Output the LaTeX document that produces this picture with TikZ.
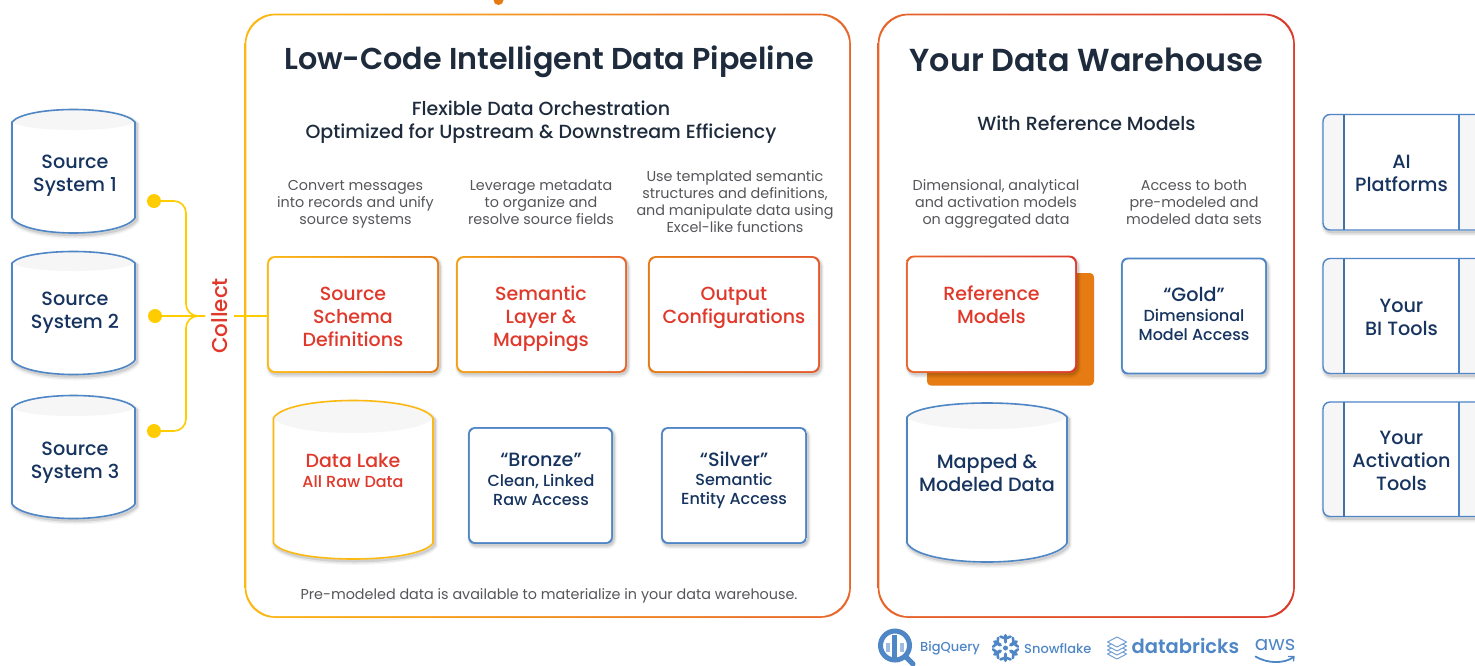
\documentclass[tikz,border=0pt]{standalone}
\usepackage{fontspec}
\setmainfont{Poppins}
\newfontfamily\pmed{Poppins Medium}
\newfontfamily\psemi{Poppins SemiBold}
\usetikzlibrary{arrows.meta,calc}
\definecolor{navy}{HTML}{16345F}
\definecolor{redt}{HTML}{E0392B}
\definecolor{greyt}{HTML}{55565A}
\definecolor{titlec}{HTML}{1E2B3C}
\definecolor{bluel}{HTML}{4F86C6}
\definecolor{yel}{HTML}{FDB913}
\definecolor{ora}{HTML}{E57B12}
\definecolor{oreds}{HTML}{E8652A}
\definecolor{redl}{HTML}{DB3A2C}
\definecolor{rim}{HTML}{F6F6F6}
\definecolor{dotc}{HTML}{FFCC00}
\tikzset{
 x=1pt,y=-1pt,
 softshadow/.style={
  preaction={draw=black,draw opacity=.035,line width=7pt,transform canvas={xshift=1.5pt,yshift=-2.5pt}},
  preaction={draw=black,draw opacity=.06,line width=4.5pt,transform canvas={xshift=1.5pt,yshift=-2.5pt}},
  preaction={draw=black,draw opacity=.10,line width=2.5pt,transform canvas={xshift=1.5pt,yshift=-2pt}}},
 subt/.style={font=\pmed\fontsize{19}{23}\selectfont,text=titlec,align=center,inner sep=0pt},
 descr/.style={font=\fontsize{14.35}{17}\selectfont,text=greyt,align=center,inner sep=0pt},
 navyt/.style={font=\pmed\fontsize{19.2}{23}\selectfont,text=navy,align=center,inner sep=0pt},
 navys/.style={font=\pmed\fontsize{16}{19}\selectfont,text=navy,align=center,inner sep=0pt},
 redtx/.style={font=\pmed\fontsize{19}{23}\selectfont,text=redt,align=center,inner sep=0pt},
 reds/.style={font=\pmed\fontsize{16}{20}\selectfont,text=redt,align=center,inner sep=0pt},
 dotn/.style={circle,fill=dotc,inner sep=0pt,minimum size=14pt},
 conn/.style={draw=dotc,line width=1.6pt},
 logot/.style={font=\pmed\fontsize{13}{16}\selectfont,text=bluel,inner sep=0pt},
}
% gradient rounded box without shadow: name,x1,y1,x2,y2,radius,line width,left colour,right colour
\newcommand{\gpanel}[9]{%
 \shade[rounded corners=#6pt,left color=#8,right color=#9] (#2-#7/2,#3-#7/2) rectangle (#4+#7/2,#5+#7/2);
 \fill[white,rounded corners=#6pt] (#2+#7/2,#3+#7/2) rectangle (#4-#7/2,#5-#7/2);
 \node[inner sep=0pt,minimum width={(#4-#2)*1pt},minimum height={(#5-#3)*1pt}] (#1) at ({(#2+#4)/2},{(#3+#5)/2}) {};}
% the same with a soft shadow
\newcommand{\gbox}[9]{%
 \path[softshadow,rounded corners=#6pt] (#2,#3) rectangle (#4,#5);
 \gpanel{#1}{#2}{#3}{#4}{#5}{#6}{#7}{#8}{#9}}
% cylinder: x1,x2,top,side top,rim bottom,side bottom,bottom,colour
\newcommand{\cyl}[8]{%
 \path[softshadow] (#1,#4) .. controls (#1+14,#3-#4/3+#3/3) and (#2-14,#3-#4/3+#3/3) .. (#2,#4) -- (#2,#6) .. controls (#2-14,#7+#7/3-#6/3) and (#1+14,#7+#7/3-#6/3) .. (#1,#6) -- cycle;
 \fill[white] (#1,#4) .. controls (#1+14,#3-#4/3+#3/3) and (#2-14,#3-#4/3+#3/3) .. (#2,#4) -- (#2,#6) .. controls (#2-14,#7+#7/3-#6/3) and (#1+14,#7+#7/3-#6/3) .. (#1,#6) -- cycle;
 \fill[rim] (#1,#4) .. controls (#1+14,#3-#4/3+#3/3) and (#2-14,#3-#4/3+#3/3) .. (#2,#4) .. controls (#2-14,#5+#5/3-#4/3) and (#1+14,#5+#5/3-#4/3) .. (#1,#4) -- cycle;
 \draw[#8,line width=1.6pt,line join=round] (#1,#4) .. controls (#1+14,#3-#4/3+#3/3) and (#2-14,#3-#4/3+#3/3) .. (#2,#4) -- (#2,#6) .. controls (#2-14,#7+#7/3-#6/3) and (#1+14,#7+#7/3-#6/3) .. (#1,#6) -- cycle;}
% side tool box: name,y1,y2
\newcommand{\toolbox}[3]{%
 \path[softshadow,rounded corners=7pt] (1323,#2) rectangle (1490,#3);
 \fill[rim,rounded corners=7pt] (1323,#2) rectangle (1490,#3);
 \fill[white] (1344,#2) rectangle (1459,#3);
 \draw[bluel,line width=1.4pt,rounded corners=7pt] (1323,#2) rectangle (1490,#3);
 \draw[bluel!85!black,line width=1.3pt] (1344,#2) -- (1344,#3);
 \draw[bluel,line width=1.3pt] (1459,#2) -- (1459,#3);
 \node[inner sep=0pt,minimum width=115pt,minimum height={(#3-#2)*1pt}] (#1) at (1401.5,{(#2+#3)/2}) {};}
\begin{document}
\begin{tikzpicture}
\useasboundingbox (0,0) rectangle (1475,665);
\clip (0,0) rectangle (1475,665);
\fill[white] (0,0) rectangle (1475,665);
\fill[ora] (498.5,0) circle (5);
% panels
\gpanel{lpanel}{245.5}{14.5}{850}{617}{30}{1.6}{yel}{oreds}
\gpanel{rpanel}{878.5}{14.5}{1294}{617}{30}{1.6}{oreds}{redl}
\node[font=\psemi\fontsize{30.2}{36}\selectfont,text=titlec,inner sep=0pt] (ttl) at (549,62) {Low-Code Intelligent Data Pipeline};
\node[font=\psemi\fontsize{31.8}{36}\selectfont,text=titlec,inner sep=0pt] (ttr) at (1086.5,60) {Your Data Warehouse};
\node[subt] (stl) at (541,122) {Flexible Data Orchestration\\Optimized for Upstream \& Downstream Efficiency};
\node[subt] (str) at (1086.5,123) {With Reference Models};
\node[descr] (d1) at (355.5,204) {Convert messages\\into records and unify\\source systems};
\node[descr] (d2) at (541,202) {Leverage metadata\\to organize and\\resolve source fields};
\node[descr] (d3) at (735,202) {Use templated semantic\\structures and definitions,\\and manipulate data using\\Excel-like functions};
\node[descr] (d4) at (996,204) {Dimensional, analytical\\and activation models\\on aggregated data};
\node[descr] (d5) at (1194,202) {Access to both\\pre-modeled and\\modeled data sets};
\node[descr] (foot) at (549,595.5) {Pre-modeled data is available to materialize in your data warehouse.};
% source cylinders
\cyl{12}{135}{109.5}{122}{130}{218}{233}{bluel}
\cyl{12}{135}{251.5}{263}{271}{360}{374.5}{bluel}
\cyl{12}{135}{395.5}{408}{416}{504}{518.5}{bluel}
\node[navyt] (s1) at (75,176) {Source\\System 1};
\node[navyt] (s2) at (75,313) {Source\\System 2};
\node[navyt] (s3) at (75,463) {Source\\System 3};
% connectors
\node[dotn] (c1) at (154,201) {};
\node[dotn] (c2) at (155,316) {};
\node[dotn] (c3) at (154,431) {};
\node[rotate=90,font=\pmed\fontsize{21.5}{23}\selectfont,text=redt,inner sep=0pt] (collect) at (220,316) {Collect};
% cards row 1
\gbox{cs}{268}{257}{438}{372}{7}{1.6}{yel}{ora}
\gbox{cm}{457}{257}{626}{372}{7}{1.6}{yel!60!ora}{oreds}
\gbox{co}{649}{257}{819}{372}{7}{1.6}{ora}{oreds!70!redl}
\node[redtx] (cst) at (353,317) {Source\\Schema\\Definitions};
\node[redtx] (cmt) at (541,319) {Semantic\\Layer \&\\Mappings};
\node[redtx] (cot) at (734,307.5) {Output\\Configurations};
\coordinate (cs1) at (234,316);
\coordinate (trunk) at (205,316);
\draw[conn,rounded corners=12pt] (c1) -- (186,201) -- (186,316) -- (trunk);
\draw[conn,rounded corners=12pt] (c3) -- (186,431) -- (186,316) -- (trunk);
\draw[conn] (c2) -- (trunk);
\draw[conn] (cs1) -- (cs.west |- cs1);
% row 2
\cyl{273.5}{433}{400.5}{418}{433}{543}{559}{yel}
\node[redtx] (dl1) at (353,460.5) {Data Lake};
\node[reds] (dl2) at (353,482) {All Raw Data};
\gbox{br}{469}{428}{612}{543}{6}{1.6}{bluel}{bluel}
\node[font=\pmed\fontsize{19.2}{23}\selectfont,text=navy,inner sep=0pt] (br1) at (541,459.5) {“Bronze”};
\node[navys] (br2) at (541,489.5) {Clean, Linked\\Raw Access};
\gbox{si}{662}{428}{806}{543}{6}{1.6}{bluel}{bluel}
\node[font=\pmed\fontsize{19.2}{23}\selectfont,text=navy,inner sep=0pt] (si1) at (734,459.5) {“Silver”};
\node[navys] (si2) at (734,490.5) {Semantic\\Entity Access};
% warehouse
\fill[ora,rounded corners=4pt] (927,273) rectangle (1094,385.5);
\gbox{rm}{907}{256.5}{1076}{372}{7}{1.6}{oreds}{redl}
\node[redtx] (rmt) at (991.5,304.5) {Reference\\Models};
\gbox{gd}{1122}{258.5}{1266}{373.5}{6}{1.6}{bluel}{bluel}
\node[font=\pmed\fontsize{19.2}{23}\selectfont,text=navy,inner sep=0pt] (gd1) at (1194,294.5) {“Gold”};
\node[navys] (gd2) at (1194,324.5) {Dimensional\\Model Access};
\cyl{907}{1067}{403}{417}{429}{543}{562}{bluel}
\node[navyt] (mm) at (987,473) {Mapped \&\\Modeled Data};
% tools
\toolbox{t1}{114.5}{230}
\toolbox{t2}{258.5}{373.5}
\toolbox{t3}{402}{516.5}
\node[navyt] (t1t) at (1401.5,173.5) {AI\\Platforms};
\node[navyt] (t2t) at (1401.5,317.5) {Your\\BI Tools};
\node[navyt] (t3t) at (1401.5,460.5) {Your\\Activation\\Tools};
% logos
\draw[bluel,line width=5pt] (895,645.5) circle (14.5);
\draw[bluel,line width=5pt,line cap=round] (906,657) -- (913,664);
\fill[bluel!55] (886,643) rectangle (889.5,652);
\fill[bluel] (892,635) rectangle (896.5,658);
\fill[bluel!55] (899.5,643) rectangle (904,652);
\node[logot,anchor=west] (bq) at (920,648.5) {BigQuery};
\foreach \a in {30,90,150,210,270,330}{
 \draw[bluel,line width=3.4pt,line cap=round] ($(1005.5,648)+(\a:6)$) -- ($(1005.5,648)+(\a:12.5)$);
 \draw[bluel,line width=2.6pt,line cap=round] ($(1005.5,648)+(\a:9.5)$) -- ($(1005.5,648)+(\a+24:12.5)$);
 \draw[bluel,line width=2.6pt,line cap=round] ($(1005.5,648)+(\a:9.5)$) -- ($(1005.5,648)+(\a-24:12.5)$);
}
\fill[bluel] (1005.5,648) circle (2.5);
\node[logot,anchor=west] (sf) at (1024,648.5) {Snowflake};
\foreach \dy in {12,8,4,0}{
 \draw[bluel!80,line width=1pt,line join=round,fill=white] (1107.5,{642+\dy}) -- (1117,{637+\dy}) -- (1126.5,{642+\dy}) -- (1117,{647+\dy}) -- cycle;
}
\node[font=\psemi\fontsize{19.5}{24}\selectfont,text=bluel,inner sep=0pt,anchor=west] (db) at (1131.5,646) {databricks};
\node[font=\fontsize{20}{20}\selectfont,text=bluel,inner sep=0pt,anchor=center] (aw) at (1275,645) {aws};
\draw[bluel,line width=1.8pt,line cap=round] (1255.5,656.5) .. controls (1268,664) and (1284,663.5) .. (1293,657.5);
\draw[bluel,line width=1.3pt,line cap=round] (1288.5,656.5) -- (1294,656.5) -- (1293.5,661);
\end{tikzpicture}
\end{document}
